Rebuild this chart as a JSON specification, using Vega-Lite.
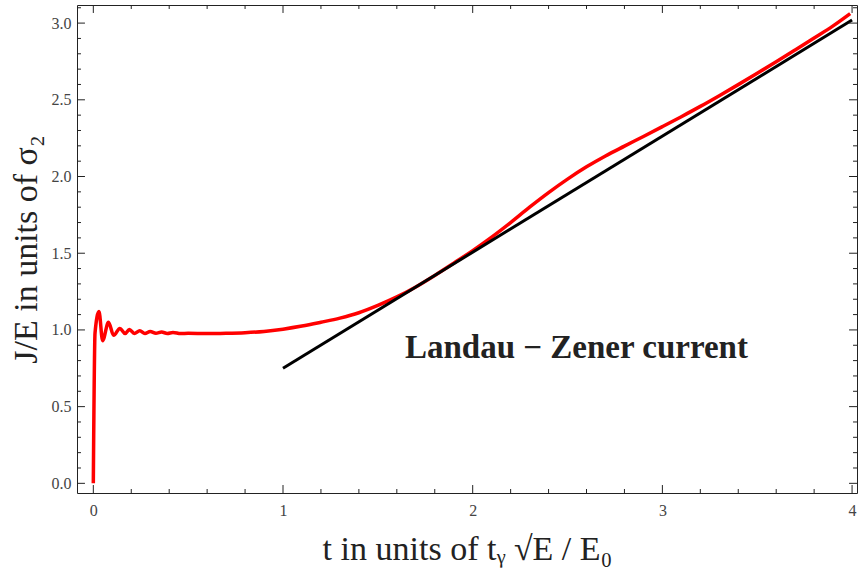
{
  "$schema": "https://vega.github.io/schema/vega-lite/v6.json",
  "width": 780,
  "height": 488,
  "autosize": "none",
  "padding": {"left": 77, "top": 5, "right": 3, "bottom": 85},
  "background": "white",
  "config": {
    "view": {"stroke": "#222", "strokeWidth": 1},
    "axis": {
      "grid": false,
      "domain": false,
      "ticks": false,
      "labelFont": "Liberation Serif",
      "labelFontSize": 16,
      "labelColor": "#444",
      "titleFont": "Liberation Serif",
      "titleFontWeight": "normal",
      "titleColor": "#222",
      "titleFontSize": 34
    }
  },
  "datasets": {
    "red": [
      {"t": 0.0, "j": 0.0},
      {"t": 0.009, "j": 0.98},
      {"t": 0.03, "j": 1.12},
      {"t": 0.049, "j": 0.93},
      {"t": 0.08, "j": 1.05},
      {"t": 0.107, "j": 0.965},
      {"t": 0.14, "j": 1.01},
      {"t": 0.168, "j": 0.976},
      {"t": 0.19, "j": 1.003},
      {"t": 0.216, "j": 0.977},
      {"t": 0.245, "j": 0.995},
      {"t": 0.272, "j": 0.977},
      {"t": 0.3, "j": 0.99},
      {"t": 0.33, "j": 0.978},
      {"t": 0.36, "j": 0.986},
      {"t": 0.39, "j": 0.977},
      {"t": 0.42, "j": 0.983},
      {"t": 0.46, "j": 0.976},
      {"t": 0.5, "j": 0.978},
      {"t": 0.6, "j": 0.976},
      {"t": 0.7, "j": 0.978},
      {"t": 0.8, "j": 0.982},
      {"t": 0.9, "j": 0.99},
      {"t": 1.0, "j": 1.005},
      {"t": 1.1, "j": 1.025},
      {"t": 1.2, "j": 1.05},
      {"t": 1.3, "j": 1.077},
      {"t": 1.4, "j": 1.112},
      {"t": 1.5, "j": 1.16},
      {"t": 1.6, "j": 1.215},
      {"t": 1.7, "j": 1.28},
      {"t": 1.8, "j": 1.355},
      {"t": 1.9, "j": 1.435},
      {"t": 2.0, "j": 1.517},
      {"t": 2.1, "j": 1.605},
      {"t": 2.2, "j": 1.7},
      {"t": 2.3, "j": 1.8},
      {"t": 2.4, "j": 1.895},
      {"t": 2.5, "j": 1.983},
      {"t": 2.6, "j": 2.063},
      {"t": 2.7, "j": 2.134},
      {"t": 2.8, "j": 2.198},
      {"t": 2.9, "j": 2.261},
      {"t": 3.0, "j": 2.325},
      {"t": 3.1, "j": 2.39},
      {"t": 3.2, "j": 2.457},
      {"t": 3.3, "j": 2.527},
      {"t": 3.4, "j": 2.599},
      {"t": 3.5, "j": 2.673},
      {"t": 3.6, "j": 2.748},
      {"t": 3.7, "j": 2.825},
      {"t": 3.8, "j": 2.903},
      {"t": 3.9, "j": 2.982},
      {"t": 3.99, "j": 3.062}
    ],
    "black": [
      {"t": 1.0, "j": 0.75},
      {"t": 4.0, "j": 3.02}
    ],
    "label": [
      {"t": 2.547, "j": 0.817, "text": "Landau − Zener current"}
    ],
    "xmajor": [{"v": 0}, {"v": 1}, {"v": 2}, {"v": 3}, {"v": 4}],
    "xminor": [{"v": 0.2}, {"v": 0.4}, {"v": 0.6}, {"v": 0.8}, {"v": 1.2}, {"v": 1.4}, {"v": 1.6}, {"v": 1.8}, {"v": 2.2}, {"v": 2.4}, {"v": 2.6}, {"v": 2.8}, {"v": 3.2}, {"v": 3.4}, {"v": 3.6}, {"v": 3.8}],
    "ymajor": [{"v": 0}, {"v": 0.5}, {"v": 1}, {"v": 1.5}, {"v": 2}, {"v": 2.5}, {"v": 3}],
    "yminor": [{"v": 0.1}, {"v": 0.2}, {"v": 0.3}, {"v": 0.4}, {"v": 0.6}, {"v": 0.7}, {"v": 0.8}, {"v": 0.9}, {"v": 1.1}, {"v": 1.2}, {"v": 1.3}, {"v": 1.4}, {"v": 1.6}, {"v": 1.7}, {"v": 1.8}, {"v": 1.9}, {"v": 2.1}, {"v": 2.2}, {"v": 2.3}, {"v": 2.4}, {"v": 2.6}, {"v": 2.7}, {"v": 2.8}, {"v": 2.9}, {"v": 3.1}]
  },
  "layer": [
    {
      "data": {"name": "red"},
      "mark": {"type": "line", "color": "#ff0000", "strokeWidth": 3.5, "strokeJoin": "round", "interpolate": "monotone"},
      "encoding": {
        "x": {
          "field": "t", "type": "quantitative",
          "scale": {"domain": [-0.086, 4.026], "nice": false, "zero": false},
          "axis": {
            "orient": "bottom",
            "title": "t in units of tᵧ √E / E₀",
            "titlePadding": 14,
            "values": [0, 1, 2, 3, 4],
            "format": "d",
            "labelPadding": 9,
            "labelFlush": false
          }
        },
        "y": {
          "field": "j", "type": "quantitative",
          "scale": {"domain": [-0.063, 3.118], "nice": false, "zero": false},
          "axis": {
            "orient": "left",
            "title": "J/E in units of σ₂",
            "titlePadding": 8,
            "values": [0, 0.5, 1, 1.5, 2, 2.5, 3],
            "format": ".1f",
            "labelPadding": 6,
            "labelFlush": false
          }
        }
      }
    },
    {
      "data": {"name": "black"},
      "mark": {"type": "line", "color": "#000000", "strokeWidth": 3},
      "encoding": {
        "x": {"field": "t", "type": "quantitative"},
        "y": {"field": "j", "type": "quantitative"}
      }
    },
    {
      "data": {"name": "xmajor"},
      "mark": {"type": "rule", "color": "#222", "strokeWidth": 1},
      "encoding": {
        "x": {"field": "v", "type": "quantitative"},
        "y": {"datum": -0.063, "type": "quantitative"},
        "y2": {"datum": -0.011}
      }
    },
    {
      "data": {"name": "xmajor"},
      "mark": {"type": "rule", "color": "#222", "strokeWidth": 1},
      "encoding": {
        "x": {"field": "v", "type": "quantitative"},
        "y": {"datum": 3.118, "type": "quantitative"},
        "y2": {"datum": 3.066}
      }
    },
    {
      "data": {"name": "xminor"},
      "mark": {"type": "rule", "color": "#222", "strokeWidth": 1},
      "encoding": {
        "x": {"field": "v", "type": "quantitative"},
        "y": {"datum": -0.063, "type": "quantitative"},
        "y2": {"datum": -0.037}
      }
    },
    {
      "data": {"name": "xminor"},
      "mark": {"type": "rule", "color": "#222", "strokeWidth": 1},
      "encoding": {
        "x": {"field": "v", "type": "quantitative"},
        "y": {"datum": 3.118, "type": "quantitative"},
        "y2": {"datum": 3.092}
      }
    },
    {
      "data": {"name": "ymajor"},
      "mark": {"type": "rule", "color": "#222", "strokeWidth": 1},
      "encoding": {
        "y": {"field": "v", "type": "quantitative"},
        "x": {"datum": -0.086, "type": "quantitative"},
        "x2": {"datum": -0.044}
      }
    },
    {
      "data": {"name": "ymajor"},
      "mark": {"type": "rule", "color": "#222", "strokeWidth": 1},
      "encoding": {
        "y": {"field": "v", "type": "quantitative"},
        "x": {"datum": 4.026, "type": "quantitative"},
        "x2": {"datum": 3.984}
      }
    },
    {
      "data": {"name": "yminor"},
      "mark": {"type": "rule", "color": "#222", "strokeWidth": 1},
      "encoding": {
        "y": {"field": "v", "type": "quantitative"},
        "x": {"datum": -0.086, "type": "quantitative"},
        "x2": {"datum": -0.065}
      }
    },
    {
      "data": {"name": "yminor"},
      "mark": {"type": "rule", "color": "#222", "strokeWidth": 1},
      "encoding": {
        "y": {"field": "v", "type": "quantitative"},
        "x": {"datum": 4.026, "type": "quantitative"},
        "x2": {"datum": 4.005}
      }
    },
    {
      "data": {"name": "label"},
      "mark": {"type": "text", "font": "Liberation Serif", "fontWeight": "bold", "fontSize": 33, "color": "#222", "align": "center", "baseline": "alphabetic"},
      "encoding": {
        "x": {"field": "t", "type": "quantitative"},
        "y": {"field": "j", "type": "quantitative"},
        "text": {"field": "text"}
      }
    }
  ]
}
